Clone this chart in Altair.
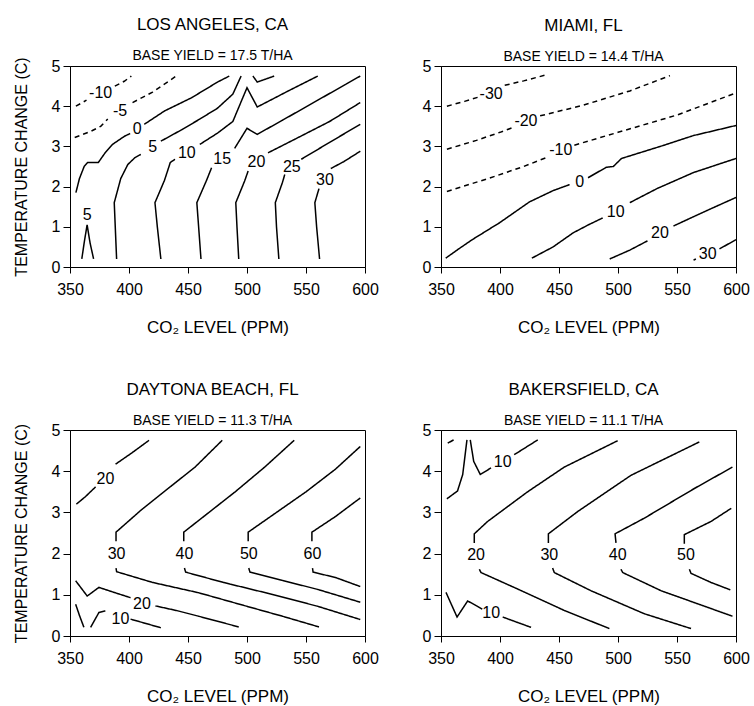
import altair as alt
import pandas as pd

FONT = "Liberation Sans"

# ---------------- data ----------------
# contour segments: (contour level, [(co2 ppm, temperature change C), ...])
# labels: (contour level, co2, temperature) where the level number is printed

LA_SEGMENTS = [
    (-10, [(355, 4.0), (364, 4.15)]),
    (-10, [(388, 4.5), (396, 4.62), (402, 4.75)]),
    (-5, [(354, 3.22), (368, 3.38), (376, 3.5), (382, 3.68)]),
    (-5, [(403, 4.09), (420, 4.35), (440, 4.75)]),
    (0, [(355, 1.85), (358, 2.2), (362, 2.5), (365, 2.6), (374, 2.6), (380, 2.85),
         (386, 3.05), (396, 3.25), (401, 3.32)]),
    (0, [(413, 3.55), (430, 3.88), (453, 4.21), (475, 4.6), (485, 4.75)]),
    (5, [(389.5, 0.2), (388.5, 0.9), (387.5, 1.6), (393, 2.2), (399, 2.55), (405, 2.72),
         (410, 2.8)]),
    (5, [(427, 3.13), (445, 3.42), (460, 3.68), (475, 3.95), (488, 4.3), (495, 4.75)]),
    (5, [(360, 0.2), (362, 0.6), (364.5, 1.05), (367, 0.6), (370, 0.2)]),
    (10, [(427, 0.2), (424, 1.0), (422, 1.6), (430, 2.15), (435, 2.6), (439, 2.68)]),
    (10, [(460, 3.05), (475, 3.33), (488, 3.62), (500, 4.46), (508.7, 3.98), (535, 4.38),
          (560, 4.75)]),
    (10, [(505, 4.75), (508.7, 4.6), (523, 4.75)]),
    (15, [(461, 0.2), (459, 1.0), (457.5, 1.6), (465.5, 2.14), (470, 2.47)]),
    (15, [(489.5, 2.95), (500, 3.45), (508.7, 3.3), (530, 3.65), (560, 4.15), (596, 4.75)]),
    (20, [(493, 0.2), (491.5, 1.0), (490.5, 1.6), (498, 2.14), (501, 2.39)]),
    (20, [(517.8, 2.84), (540, 3.17), (570, 3.62), (596, 4.09)]),
    (25, [(527, 0.2), (525, 1.0), (524, 1.6), (530, 2.1), (532, 2.3)]),
    (25, [(546, 2.68), (570, 3.1), (596, 3.55)]),
    (30, [(561.5, 0.2), (559, 1.0), (557.5, 1.6), (561, 1.95)]),
    (30, [(571, 2.45), (582, 2.62), (596, 2.88)]),
]
LA_LABELS = [(-10, 376, 4.32), (-5, 392.5, 3.88), (0, 407, 3.43), (5, 420, 2.98),
             (10, 449, 2.83), (15, 479, 2.68), (20, 508, 2.6), (25, 538, 2.48),
             (30, 566, 2.16), (5, 364.5, 1.3)]

MIAMI_SEGMENTS = [
    (-30, [(355, 4.0), (370, 4.12), (381, 4.22)]),
    (-30, [(404, 4.52), (420, 4.63), (438, 4.77)]),
    (-20, [(355, 2.93), (380, 3.15), (400, 3.35), (410, 3.46)]),
    (-20, [(434, 3.76), (470, 4.02), (510, 4.38), (544, 4.76)]),
    (-10, [(355, 1.88), (390, 2.2), (420, 2.5), (440, 2.73)]),
    (-10, [(463, 3.03), (500, 3.35), (550, 3.78), (600, 4.33)]),
    (0, [(354, 0.22), (365, 0.45), (377, 0.69), (399.6, 1.1), (425, 1.62), (445, 1.9),
         (459, 2.05)]),
    (0, [(474.6, 2.22), (490, 2.48), (496, 2.5), (503, 2.7), (538, 3.02), (564, 3.27),
         (600, 3.52)]),
    (10, [(427, 0.22), (445, 0.5), (462, 0.85), (475, 1.05), (487, 1.22)]),
    (10, [(510, 1.6), (533, 1.95), (564, 2.35), (600, 2.7)]),
    (20, [(493, 0.2), (510, 0.42), (525, 0.65)]),
    (20, [(547, 1.02), (575, 1.4), (600, 1.73)]),
    (30, [(564, 0.17), (566, 0.2)]),
    (30, [(586, 0.45), (600, 0.68)]),
]
MIAMI_LABELS = [(-30, 392.5, 4.3), (-20, 422, 3.62), (-10, 451.5, 2.9), (0, 467.5, 2.12),
                (10, 498, 1.37), (20, 535.5, 0.85), (30, 576, 0.33)]

DAYTONA_SEGMENTS = [
    (20, [(355.4, 3.2), (363, 3.38), (371.7, 3.62)]),
    (20, [(388.6, 4.17), (402.7, 4.45), (417, 4.75)]),
    (30, [(389, 2.3), (389, 2.52), (410, 3.05), (434, 3.6), (456, 4.1), (479, 4.75)]),
    (30, [(389, 1.65), (389.5, 1.56), (420, 1.3), (459, 1.05), (500, 0.72), (530, 0.48),
          (561, 0.22)]),
    (40, [(446.4, 2.3), (446.4, 2.52), (470, 3.05), (490, 3.5), (515, 4.1), (540, 4.75)]),
    (40, [(447, 1.65), (448, 1.55), (480, 1.3), (520, 1.02), (560, 0.72), (596, 0.4)]),
    (50, [(501, 2.3), (501, 2.52), (525, 3.0), (550, 3.5), (575, 4.05), (596, 4.6)]),
    (50, [(501.5, 1.65), (502.5, 1.55), (530, 1.35), (560, 1.13), (596, 0.82)]),
    (60, [(555, 2.3), (555, 2.52), (575, 2.9), (596, 3.35)]),
    (60, [(555.5, 1.65), (556, 1.55), (575, 1.42), (596, 1.2)]),
    (20, [(354.8, 1.34), (364.6, 0.97), (374.5, 1.18), (385, 1.08), (401.3, 0.93)]),
    (20, [(422.4, 0.73), (440, 0.62), (459, 0.48), (493, 0.22)]),
    (10, [(354.8, 0.77), (358, 0.5), (361.8, 0.21)]),
    (10, [(367.5, 0.21), (374.5, 0.57), (380, 0.61)]),
    (10, [(401.3, 0.41), (427, 0.2)]),
]
DAYTONA_LABELS = [(20, 380, 3.82), (30, 389.5, 2.0), (40, 447, 2.0), (50, 501.5, 2.0),
                  (60, 555.5, 2.0), (20, 411, 0.77), (10, 392.8, 0.41)]

BAKERSFIELD_SEGMENTS = [
    (10, [(355.7, 4.68), (360.7, 4.76)]),
    (10, [(355, 3.33), (364, 3.52), (368.4, 3.92), (372, 4.76)]),
    (10, [(374.8, 4.76), (377.7, 4.24), (383.3, 3.92), (392.4, 4.08)]),
    (10, [(412, 4.4), (432, 4.76)]),
    (10, [(354.2, 1.06), (363.6, 0.46), (372.6, 0.85), (381, 0.72), (385, 0.65)]),
    (10, [(402.3, 0.46), (426.3, 0.21)]),
    (20, [(378.2, 2.26), (378.2, 2.48), (389.5, 2.78), (423.4, 3.5), (454.5, 4.1),
          (499.7, 4.74)]),
    (20, [(382.5, 1.62), (383.9, 1.54), (415, 1.14), (454.5, 0.62), (492.7, 0.18)]),
    (30, [(441, 2.26), (441, 2.48), (465.8, 3.02), (511, 3.9), (568.9, 4.71)]),
    (30, [(444.6, 1.65), (446, 1.54), (477, 1.1), (522.3, 0.54), (561.9, 0.18)]),
    (40, [(498.3, 2.26), (497.5, 2.48), (522.3, 2.86), (564.7, 3.58), (597, 4.1)]),
    (40, [(502.5, 1.62), (504, 1.54), (536.4, 1.1), (597, 0.48)]),
    (50, [(556.2, 2.24), (556.2, 2.46), (578.8, 2.78), (596, 3.1)]),
    (50, [(560.5, 1.62), (561.9, 1.52), (578.8, 1.3), (595.2, 1.12)]),
]
BAKERSFIELD_LABELS = [(10, 402.3, 4.23), (10, 392.5, 0.55), (20, 379.7, 1.96),
                      (30, 441.8, 1.96), (40, 499.7, 1.96), (50, 557.6, 1.96)]

CITIES = ["LOS ANGELES, CA", "MIAMI, FL", "DAYTONA BEACH, FL", "BAKERSFIELD, CA"]
BASE_YIELDS = ["17.5", "14.4", "11.3", "11.1"]
X_TICKS = [350, 400, 450, 500, 550, 600]
Y_TICKS = [0, 1, 2, 3, 4, 5]


def panel(city, base, segs, labels, left, height):
    rows = []
    for si, (lev, pts) in enumerate(segs):
        for pi, (x, y) in enumerate(pts):
            rows.append({"seg": si, "i": pi, "co2": x, "temp": y,
                         "style": "dashed" if lev < 0 else "solid"})
    df = pd.DataFrame(rows)
    ldf = pd.DataFrame([{"co2": x, "temp": y, "txt": str(lev)} for lev, x, y in labels])

    xsc = alt.Scale(domain=[350, 600], nice=False, zero=False)
    ysc = alt.Scale(domain=[0, 5], nice=False)
    xax = alt.Axis(values=X_TICKS, title="CO₂ LEVEL (PPM)", grid=False, labelFlush=False,
                   tickSize=6, labelPadding=8, titlePadding=22, titleFontSize=17)
    if left:
        yax = alt.Axis(values=Y_TICKS, title="TEMPERATURE CHANGE (C)", grid=False,
                       tickSize=7, labelPadding=3, titlePadding=22)
    else:
        yax = alt.Axis(values=Y_TICKS, title=None, grid=False, tickSize=7, labelPadding=3)

    lines = alt.Chart(df).mark_line(color="black", strokeWidth=1.5).encode(
        x=alt.X("co2:Q", scale=xsc, axis=xax),
        y=alt.Y("temp:Q", scale=ysc, axis=yax),
        detail="seg:N",
        order="i:Q",
        strokeDash=alt.StrokeDash(
            "style:N",
            scale=alt.Scale(domain=["solid", "dashed"], range=[[1, 0], [5, 4]]),
            legend=None,
        ),
    )
    texts = alt.Chart(ldf).mark_text(font=FONT, fontSize=16, color="black").encode(
        x=alt.X("co2:Q", scale=xsc),
        y=alt.Y("temp:Q", scale=ysc),
        text="txt:N",
    )
    return alt.layer(lines, texts).properties(
        width=295,
        height=height,
        title=alt.TitleParams(
            text=city,
            subtitle=f"BASE YIELD = {base} T/HA",
            font=FONT, fontSize=17, fontWeight="normal", color="black",
            subtitleFont=FONT, subtitleFontSize=14, subtitleColor="black",
            subtitlePadding=15, offset=-7, anchor="middle", frame="group", dx=-5,
        ),
    )


p1 = panel(CITIES[0], BASE_YIELDS[0], LA_SEGMENTS, LA_LABELS, True, 201)
p2 = panel(CITIES[1], BASE_YIELDS[1], MIAMI_SEGMENTS, MIAMI_LABELS, False, 201)
p3 = panel(CITIES[2], BASE_YIELDS[2], DAYTONA_SEGMENTS, DAYTONA_LABELS, True, 206)
p4 = panel(CITIES[3], BASE_YIELDS[3], BAKERSFIELD_SEGMENTS, BAKERSFIELD_LABELS, False, 206)

chart = alt.concat(p1, p2, p3, p4, columns=2, spacing={"row": 44, "column": 42}).properties(
    padding={"left": 12, "top": 15, "right": 0, "bottom": 0},
    background="white",
).configure_view(
    stroke="black", strokeWidth=1
).configure_axis(
    domainColor="black", tickColor="black", labelColor="black", titleColor="black",
    labelFont=FONT, labelFontSize=16, titleFont=FONT, titleFontSize=16,
    titleFontWeight="normal", domainWidth=1, tickWidth=1,
)

chart.save("out.html", embed_options={"renderer": "svg", "actions": False})
